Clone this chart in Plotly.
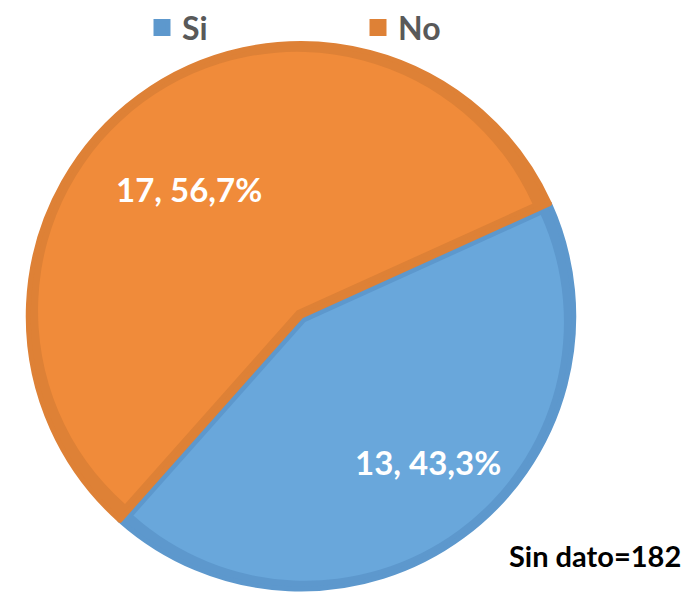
import math
import plotly.graph_objects as go

labels = ["Si", "No"]
values = [13, 17]
fill_colors = ["#69a7db", "#f08b3a"]
edge_colors = ["#5d98cd", "#de8136"]
note_text = "Sin dato=182"

W, H = 693, 593
cx, cy, R = 301, 313, 276
d = 7.0
total = sum(values)

# inset geometry (both slices have same half-angle sine)
frac0 = values[0] / total
half = math.pi * frac0
sh = math.sin(half)
off = d / sh
r_in = R - d - off
pull = off / r_in
box = r_in * (1 + pull)

rotation = 65.6

fig = go.Figure()
fig.add_trace(go.Pie(
    labels=labels, values=values, sort=False, direction="clockwise",
    rotation=rotation,
    marker=dict(colors=edge_colors, line=dict(color=edge_colors, width=5)),
    textinfo="none", hoverinfo="label+value+percent",
    domain=dict(x=[(cx - R) / W, (cx + R) / W], y=[(H - cy - R) / H, (H - cy + R) / H]),
    showlegend=True,
))
fig.add_trace(go.Pie(
    labels=labels, values=values, sort=False, direction="clockwise",
    rotation=rotation, pull=[pull, pull],
    marker=dict(colors=fill_colors, line=dict(width=0)),
    textinfo="none", hoverinfo="label+value+percent",
    domain=dict(x=[(cx - box) / W, (cx + box) / W], y=[(H - cy - box) / H, (H - cy + box) / H]),
    showlegend=False,
))

def fmt(v):
    pct = f"{100 * v / total:.1f}".replace(".", ",")
    return f"{v}, {pct}%"

label_pos = [(428, 460), (189, 184)]
annotations = []
for v, (x, y) in zip(values, label_pos):
    annotations.append(dict(
        x=x / W, y=1 - y / H, xref="paper", yref="paper",
        text=f"<b>{fmt(v)}</b>", showarrow=False,
        font=dict(family="Lato", size=33, color="white"),
        xanchor="center", yanchor="middle",
    ))
annotations.append(dict(
    x=595 / W, y=1 - 555 / H, xref="paper", yref="paper",
    text=f"<b>{note_text}</b>", showarrow=False,
    font=dict(family="Lato", size=29, color="black"),
    xanchor="center", yanchor="middle",
))

fig.update_layout(
    width=W, height=H,
    margin=dict(l=0, r=0, t=0, b=0),
    paper_bgcolor="white", plot_bgcolor="white",
    font=dict(family="Lato"),
    legend=dict(
        orientation="h", x=142 / W, y=1 - 21 / H, xanchor="left", yanchor="middle",
        font=dict(family="Lato", size=32, color="#595959", weight="bold"),
        entrywidth=171, entrywidthmode="pixels",
        bgcolor="rgba(0,0,0,0)",
    ),
    annotations=annotations,
)

fig.write_html("out.html", config={"displayModeBar": False},
               post_script="document.body.style.margin='0';")
